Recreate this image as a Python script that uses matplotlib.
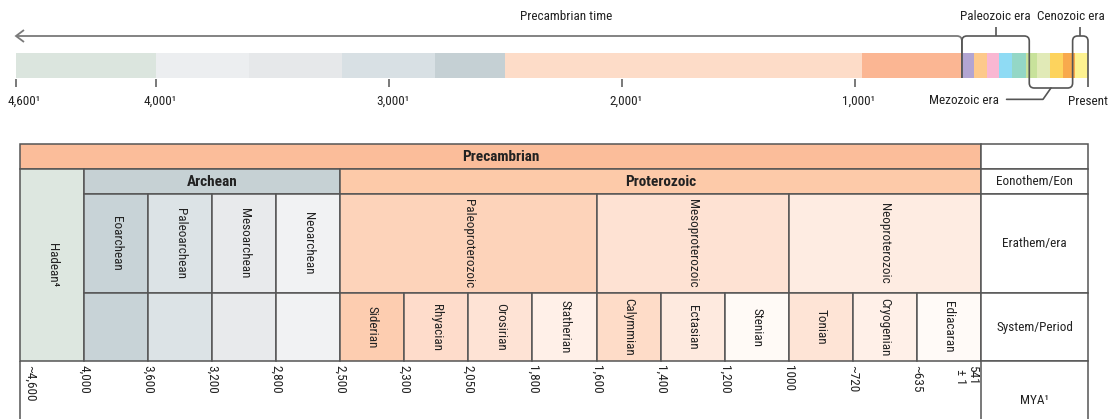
import matplotlib
matplotlib.use("Agg")
import matplotlib.pyplot as plt
import numpy as np
from matplotlib.patches import Rectangle, PathPatch
from matplotlib.path import Path
from matplotlib.transforms import IdentityTransform, offset_copy

W, H, DPI = 1112, 419, 100
FAMILY = ['Roboto Condensed', 'Archivo Narrow', 'PT Sans Narrow',
          'Barlow Semi Condensed', 'DejaVu Sans']
plt.rcParams['font.family'] = FAMILY

# ---------------- data: top time bar (million years ago) ----------------
bar_edges = [4600, 4000, 3600, 3200, 2800, 2500, 970, 541, 488, 433, 381,
             325, 265, 218, 162, 107, 55, 0]
bar_colors = ['#dbe5de', '#eceef0', '#e6e8ea', '#d8e0e4', '#c5d0d4',
              '#fddcc8', '#fbb693', '#b2a5d2', '#fdc98b', '#f9b7d2',
              '#8fdbf4', '#94d7c6', '#c8e29b', '#e1eab7', '#fdd35d',
              '#f8a94d', '#fdf290']
tick_values = [4600, 4000, 3000, 2000, 1000]
tick_labels = ['4,600\u00b9', '4,000\u00b9', '3,000\u00b9', '2,000\u00b9', '1,000\u00b9']
present_label = 'Present'
precambrian_label = 'Precambrian time'
precambrian_end = 541
span_names = ['Paleozoic era', 'Mezozoic era', 'Cenozoic era']
span_edges = [541, 252, 66, 0]

# ---------------- data: table ----------------
supereon = ('Precambrian', 0, 15)
eons = [('Hadean\u2074', 0, 1), ('Archean', 1, 5), ('Proterozoic', 5, 15)]
eras = [('Eoarchean', 1, 2), ('Paleoarchean', 2, 3), ('Mesoarchean', 3, 4),
        ('Neoarchean', 4, 5), ('Paleoproterozoic', 5, 9),
        ('Mesoproterozoic', 9, 12), ('Neoproterozoic', 12, 15)]
periods = ['', '', '', '', 'Siderian', 'Rhyacian', 'Orosirian', 'Statherian',
           'Calymmian', 'Ectasian', 'Stenian', 'Tonian', 'Cryogenian', 'Ediacaran']
mya_labels = ['~4,600', '4,000', '3,600', '3,200', '2,800', '2,500', '2,300',
              '2,050', '1,800', '1,600', '1,400', '1,200', '1000', '~720',
              '~635', '541\n\u00b1 1']
row_labels = ['', 'Eonothem/Eon', 'Erathem/era', 'System/Period', 'MYA\u00b9']

# ---------------- styles ----------------
supereon_color = '#fbbd9a'
eon_colors = ['#dde7e0', '#c6d1d4', '#fdcaa9']
era_colors = ['#c8d3d7', '#dce3e6', '#e8eaec', '#f1f2f3', '#fdd3ba', '#fee2d3', '#feece2']
period_colors = ['#c8d3d7', '#dce3e6', '#e8eaec', '#f1f2f3',
                 '#fdcdb0', '#fedccb', '#fee3d5', '#fff0e8',
                 '#fedcc8', '#feeadf', '#fffaf6',
                 '#fee4d6', '#fff0e8', '#fffaf7']
LINE = '#555555'
ARROW = '#7a7a7a'
TXT = '#222222'
FS = 9.5
FSB = 11

fig = plt.figure(figsize=(W / DPI, H / DPI), dpi=DPI)
fig.patch.set_facecolor('white')

# ================= top timeline =================
ax = fig.add_axes([16 / W, 1 - 115 / H, (1088 - 16) / W, 115 / H])
ax.set_xlim(4600, 0)
ax.set_ylim(115, 0)
ax.axis('off')

lefts = bar_edges[1:]
widths = [a - b for a, b in zip(bar_edges[:-1], bar_edges[1:])]
ax.barh(65.5, widths, left=lefts, height=25, color=bar_colors, linewidth=0,
        align='center', clip_on=False)
ax.vlines(tick_values, 79, 87, color=LINE, lw=1.1, clip_on=False)
for i, (v, lab) in enumerate(zip(tick_values, tick_labels)):
    if i == 0:
        tr = offset_copy(ax.transData, fig=fig, x=-8, y=0, units='dots')
        ax.text(v, 101, lab, ha='left', va='center', fontsize=FS, color=TXT,
                transform=tr, clip_on=False)
    else:
        tr = offset_copy(ax.transData, fig=fig, x=4, y=0, units='dots')
        ax.text(v, 101, lab, ha='center', va='center', fontsize=FS, color=TXT,
                transform=tr)
ax.text(span_edges[-1], 101, present_label, ha='center', va='center',
        fontsize=FS, color=TXT, clip_on=False)


def rounded(axis, pts, r=5, **kw):
    d = axis.transData.transform(np.asarray(pts, float))
    verts = [d[0]]
    codes = [Path.MOVETO]
    for i in range(1, len(d) - 1):
        p0, p1, p2 = d[i - 1], d[i], d[i + 1]
        u1 = (p0 - p1) / np.linalg.norm(p0 - p1)
        u2 = (p2 - p1) / np.linalg.norm(p2 - p1)
        verts += [p1 + u1 * r, p1, p1 + u2 * r]
        codes += [Path.LINETO, Path.CURVE3, Path.CURVE3]
    verts.append(d[-1])
    codes.append(Path.LINETO)
    axis.add_patch(PathPatch(Path(verts, codes), transform=IdentityTransform(),
                             fill=False, clip_on=False, **kw))


y_top, y_bar_bot, y_low = 36, 78, 88
rounded(ax, [(bar_edges[0], y_top), (precambrian_end, y_top), (precambrian_end, y_bar_bot)],
        r=5, edgecolor=ARROW, lw=1.3)
ah = ax.transData.transform([(bar_edges[0], y_top)])[0]
ax.add_patch(PathPatch(Path([ah + (8, 6), ah, ah + (8, -6)]), transform=IdentityTransform(),
                       fill=False, edgecolor=ARROW, lw=1.3, clip_on=False))
p, m, c, z = span_edges
rounded(ax, [(p, y_bar_bot), (p, y_top), (m, y_top), (m, y_low), (c, y_low),
             (c, y_top), (z, y_top), (z, y_low - 1)], r=5, edgecolor=LINE, lw=1.2)

ax.text(2240, 17, precambrian_label, ha='center', va='center', fontsize=FS, color=TXT)
mid_p = (p + m) / 2
mid_m = (m + c) / 2
mid_c = (c + z) / 2
ax.vlines([mid_p, mid_c], 27, y_top, color=LINE, lw=1.2, clip_on=False)
ax.text(mid_p, 17, span_names[0], ha='center', va='center', fontsize=FS, color=TXT)
trc = offset_copy(ax.transData, fig=fig, x=-9, y=0, units='dots')
ax.text(mid_c, 17, span_names[2], ha='center', va='center', fontsize=FS, color=TXT,
        transform=trc, clip_on=False)
ax.annotate(span_names[1], xy=(mid_m, y_low), xytext=(-52, -12),
            textcoords='offset pixels', ha='right', va='center', fontsize=FS, color=TXT,
            arrowprops=dict(arrowstyle='-', color=LINE, lw=1.2, relpos=(1, 0.55),
                            shrinkA=3.5, shrinkB=0,
                            connectionstyle='angle,angleA=0,angleB=55,rad=0'))

# ================= table =================
ncol = len(mya_labels) - 1
lab_w = 107 / 64
ta = fig.add_axes([20 / W, 0, 1068 / W, (H - 144) / H])
ta.set_xlim(0, ncol + lab_w)
ta.set_ylim(H, 144)
ta.axis('off')
rows = [144, 169, 194, 293, 361, H + 20]


def cell(x0, x1, y0, y1, fc, text=None, rot=0, bold=False, fs=FS):
    ta.add_patch(Rectangle((x0, y0), x1 - x0, y1 - y0, facecolor=fc,
                           edgecolor=LINE, lw=1.1, clip_on=False))
    if text:
        ta.text((x0 + x1) / 2, (y0 + y1) / 2, text, ha='center', va='center',
                rotation=rot, fontsize=fs, color=TXT,
                fontweight='bold' if bold else 'normal')


cell(supereon[1], supereon[2], rows[0], rows[1], supereon_color, supereon[0], bold=True, fs=FSB)
for (name, a, b), col in zip(eons, eon_colors):
    if a == 0:
        cell(a, b, rows[1], rows[4], col, name, rot=-90)
    else:
        cell(a, b, rows[1], rows[2], col, name, bold=True, fs=FSB)
for (name, a, b), col in zip(eras, era_colors):
    cell(a, b, rows[2], rows[3], col, name, rot=-90)
for i, (name, col) in enumerate(zip(periods, period_colors)):
    cell(i + 1, i + 2, rows[3], rows[4], col, name, rot=-90)
for j, lab in enumerate(row_labels):
    cell(ncol, ncol + lab_w, rows[j], rows[j + 1], 'white', lab)
ta.vlines(0, rows[4], rows[5], color=LINE, lw=1.1, clip_on=False)
for i, lab in enumerate(mya_labels):
    if i == 0:
        ta.text(i + 0.06, 365, lab, ha='left', va='top', rotation=-90,
                fontsize=FS, color=TXT)
    elif i == ncol:
        ta.text(i - 0.03, 365, lab, ha='right', va='top', rotation=-90,
                fontsize=FS, color=TXT, linespacing=0.9)
    else:
        ta.text(i, 365, lab, ha='center', va='top', rotation=-90,
                fontsize=FS, color=TXT)

fig.savefig('out.png', dpi=DPI, facecolor='white')
